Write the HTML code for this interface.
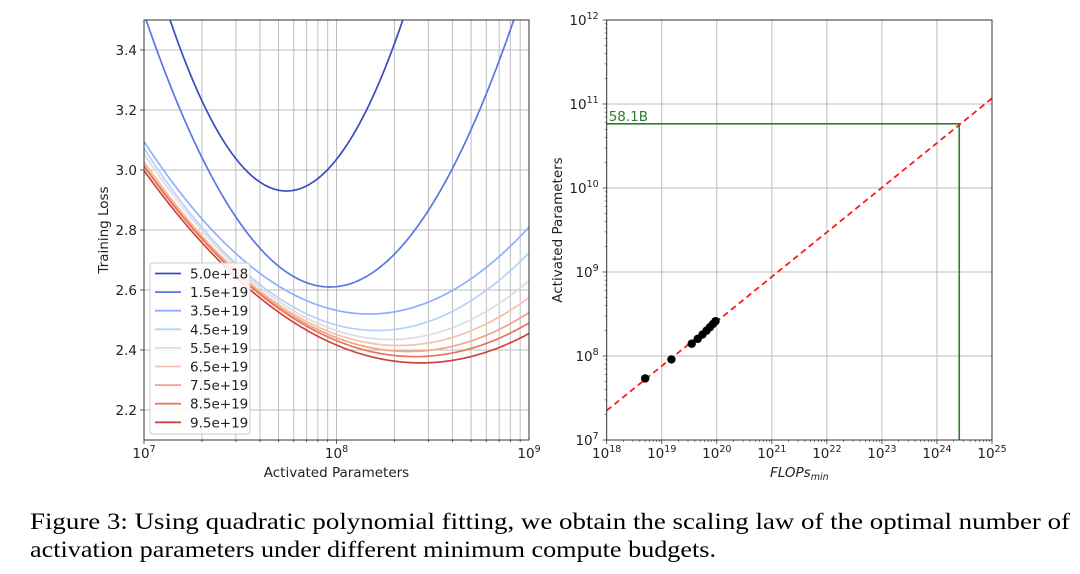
<!DOCTYPE html>
<html><head><meta charset="utf-8"><style>
html,body{margin:0;padding:0;background:#fff;}
svg{display:block;font-family:"DejaVu Sans","Liberation Sans",sans-serif;}
</style></head><body>
<svg id="fig" width="1080" height="574" viewBox="0 0 1080 574" xmlns="http://www.w3.org/2000/svg">
<g id="left"></g>
<g id="right"></g>
<text x="30" y="529" font-family="Liberation Serif, serif" font-size="23" textLength="1040" lengthAdjust="spacingAndGlyphs">Figure 3: Using quadratic polynomial fitting, we obtain the scaling law of the optimal number of</text>
<text x="30" y="557" font-family="Liberation Serif, serif" font-size="23" textLength="686" lengthAdjust="spacingAndGlyphs">activation parameters under different minimum compute budgets.</text>
</svg>
<script>
// ---- Left chart data ----
const budgets = ["5.0e+18","1.5e+19","3.5e+19","4.5e+19","5.5e+19","6.5e+19","7.5e+19","8.5e+19","9.5e+19"];
const minLoss = [2.93,2.61,2.52,2.465,2.435,2.415,2.395,2.378,2.357];
const optLogN = [7.74,7.966,8.17,8.21,8.28,8.324,8.373,8.408,8.438];
const curvature = [1.56,0.976,0.42,0.415,0.378,0.35,0.33,0.32,0.31];
const colors = ["#3b4cc0","#5977e3","#8db0fe","#b8d0f9","#dddddd","#f5c1a9","#f4a384","#e7745b","#cf453c"];
const yTicks = [2.2,2.4,2.6,2.8,3.0,3.2,3.4];
// ---- Right chart data ----
const flops = [5e18,1.5e19,3.5e19,4.5e19,5.5e19,6.5e19,7.5e19,8.5e19,9.5e19];
const optParams = [5.4e7,9.1e7,1.4e8,1.6e8,1.8e8,2.0e8,2.2e8,2.4e8,2.6e8];
const fitIntercept = 7.35, fitSlope = 0.531;
const targetFlops = 2.54e24, targetParams = 58.1e9, targetLabel = "58.1B";

const NS="http://www.w3.org/2000/svg";
const FS=13.5;
function el(parent,tag,attrs,text){const e=document.createElementNS(NS,tag);for(const k in attrs)e.setAttribute(k,attrs[k]);if(text!==undefined)e.textContent=text;parent.appendChild(e);return e;}

// ===== LEFT =====
(function(){
const g=document.getElementById('left');
const L=144,R=529,T=20,B=440, x0=7,x1=9,y0=2.1,y1=3.5;
const X=v=>L+(v-x0)/(x1-x0)*(R-L), Y=v=>B-(v-y0)/(y1-y0)*(B-T);
el(g,'clipPath',{id:'lc'}).appendChild(document.createElementNS(NS,'rect'));
const cr=g.querySelector('#lc rect');cr.setAttribute('x',L);cr.setAttribute('y',T);cr.setAttribute('width',R-L);cr.setAttribute('height',B-T);
for(let d=7;d<9;d++)for(let m=1;m<10;m++){const x=X(d+Math.log10(m));
 const gl=el(g,'line',{x1:x,x2:x,y1:T,y2:B,stroke:'#bdbdbd','stroke-width':1});
 
 el(g,'line',{x1:x,x2:x,y1:B,y2:B+(m==1?4:2),stroke:'#333','stroke-width':0.8});}
yTicks.forEach(v=>{const y=Y(v);
 const gl=el(g,'line',{x1:L,x2:R,y1:y,y2:y,stroke:'#bdbdbd','stroke-width':1});
 
 el(g,'line',{x1:L-4,x2:L,y1:y,y2:y,stroke:'#333','stroke-width':0.8});
 const t=el(g,'text',{x:L-7,y:y+5,'text-anchor':'end','font-size':FS,fill:'#222'},v.toFixed(1));
 });
[7,8,9].forEach(d=>{const x=X(d);
 const t=el(g,'text',{x:x,y:B+18,'text-anchor':'middle','font-size':FS,fill:'#222'});
 
 el(t,'tspan',{},'10');el(t,'tspan',{dy:-6,'font-size':9.5},String(d));});
const cg=el(g,'g',{'clip-path':'url(#lc)'});
budgets.forEach((b,i)=>{let d='';for(let k=0;k<=200;k++){const lx=x0+k/200*(x1-x0);const v=minLoss[i]+curvature[i]*(lx-optLogN[i])**2;d+=(k?'L':'M')+X(lx).toFixed(2)+','+Y(v).toFixed(2);}
 const p=el(cg,'path',{d:d,fill:'none',stroke:colors[i],'stroke-width':1.7});
 });
el(g,'rect',{x:L,y:T,width:R-L,height:B-T,fill:'none',stroke:'#333','stroke-width':1});
const xt=el(g,'text',{x:(L+R)/2,y:477,'text-anchor':'middle','font-size':FS,fill:'#222'},'Activated Parameters');

const yt=el(g,'text',{x:0,y:0,transform:'translate(108,230) rotate(-90)','text-anchor':'middle','font-size':FS,fill:'#222'},'Training Loss');

const lg=el(g,'g',{});
el(lg,'rect',{x:150,y:263,width:100,height:171,rx:3,fill:'#fff','fill-opacity':0.85,stroke:'#ccc'});
budgets.forEach((b,i)=>{const y=273.5+i*18.6;
 const e=el(lg,'g',{});
 el(e,'line',{x1:155,x2:181,y1:y,y2:y,stroke:colors[i],'stroke-width':1.8});
 el(e,'text',{x:190,y:y+5,'font-size':FS,fill:'#222'},b);});
})();

// ===== RIGHT =====
(function(){
const g=document.getElementById('right');
const L=606.7,R=992,T=20,B=440, x0=18,x1=25,y0=7,y1=12;
const X=v=>L+(Math.log10(v)-x0)/(x1-x0)*(R-L), Y=v=>B-(Math.log10(v)-y0)/(y1-y0)*(B-T);
for(let d=x0;d<=x1;d++){const x=X(10**d);
 if(d>x0&&d<x1){const gl=el(g,'line',{x1:x,x2:x,y1:T,y2:B,stroke:'#bdbdbd','stroke-width':1});}
 el(g,'line',{x1:x,x2:x,y1:B,y2:B+4,stroke:'#333','stroke-width':0.8});
 if(d<x1)for(let m=2;m<10;m++){const xm=X(m*10**d);el(g,'line',{x1:xm,x2:xm,y1:B,y2:B+2,stroke:'#333','stroke-width':0.6});}
 const t=el(g,'text',{x:x,y:B+18,'text-anchor':'middle','font-size':FS,fill:'#222'});
 
 el(t,'tspan',{},'10');el(t,'tspan',{dy:-6,'font-size':9.5},String(d));}
for(let d=y0;d<=y1;d++){const y=Y(10**d);
 if(d>y0&&d<y1){const gl=el(g,'line',{x1:L,x2:R,y1:y,y2:y,stroke:'#bdbdbd','stroke-width':1});}
 el(g,'line',{x1:L-4,x2:L,y1:y,y2:y,stroke:'#333','stroke-width':0.8});
 if(d<y1)for(let m=2;m<10;m++){const ym=Y(m*10**d);el(g,'line',{x1:L-2,x2:L,y1:ym,y2:ym,stroke:'#333','stroke-width':0.6});}
 const t=el(g,'text',{x:L-8,y:y+5,'text-anchor':'end','font-size':FS,fill:'#222'});
 
 el(t,'tspan',{},'10');el(t,'tspan',{dy:-6,'font-size':9.5},String(d));}
const fx0=10**x0,fx1=10**x1;
const fit=el(g,'line',{x1:X(fx0),y1:Y(10**fitIntercept),x2:X(fx1),y2:Y(10**(fitIntercept+fitSlope*(x1-x0))),stroke:'#ff1a1a','stroke-width':1.8,'stroke-dasharray':'6,4'});

const tg=el(g,'polyline',{points:`${L},${Y(targetParams)} ${X(targetFlops)},${Y(targetParams)} ${X(targetFlops)},${B}`,fill:'none',stroke:'#2e7d2e','stroke-width':1.6});

const tl=el(g,'text',{x:L+2,y:Y(targetParams)-3,'font-size':FS,fill:'#2e7d2e'},targetLabel);

flops.forEach((f,i)=>{const c=el(g,'circle',{cx:X(f),cy:Y(optParams[i]),r:4.2,fill:'#000'});
 });
el(g,'rect',{x:L,y:T,width:R-L,height:B-T,fill:'none',stroke:'#333','stroke-width':1});
const xt=el(g,'text',{x:(L+R)/2,y:477,'text-anchor':'middle','font-size':FS,'font-style':'italic',fill:'#222'});

el(xt,'tspan',{},'FLOPs');el(xt,'tspan',{dy:3,'font-size':9.5},'min');
const yt=el(g,'text',{x:0,y:0,transform:'translate(562,230) rotate(-90)','text-anchor':'middle','font-size':FS,fill:'#222'},'Activated Parameters');

})();
</script>
</body></html>
